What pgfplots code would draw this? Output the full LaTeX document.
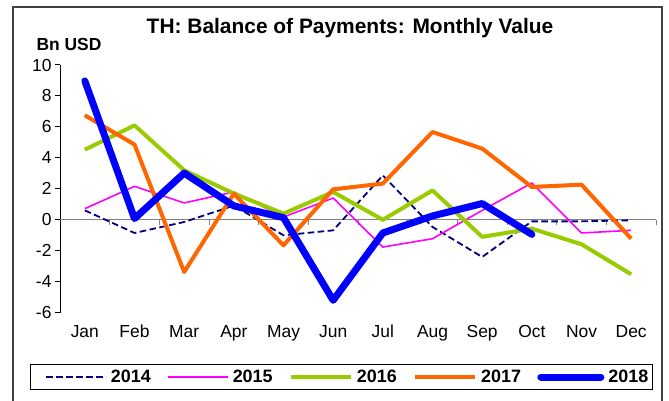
\documentclass[border=0pt]{standalone}
\usepackage{fontspec}
\setmainfont{Liberation Sans}
\usepackage{pgfplots}
\pgfplotsset{compat=1.18}

\definecolor{c2014}{RGB}{0,0,128}
\definecolor{c2015}{RGB}{255,0,255}
\definecolor{c2016}{RGB}{153,204,0}
\definecolor{c2017}{RGB}{255,102,0}
\definecolor{c2018}{RGB}{0,0,255}
\definecolor{zeroline}{RGB}{128,128,128}

\begin{document}
\begin{tikzpicture}[x=1bp,y=1bp]
\useasboundingbox (0,0) rectangle (669,400);
% chart frame
\begin{scope}
  \clip (0,0) rectangle (669,400);
  \draw[line width=1.2bp, black!75] (13,-10) -- (13,393) -- (662,393) -- (662,-10);
\end{scope}

\node[font=\fontsize{21}{24}\selectfont\bfseries] at (350,372) {TH: Balance of Payments: Monthly Value};
\node[font=\fontsize{17.5}{20}\selectfont\bfseries] at (69,356) {Bn USD};

\begin{axis}[
  at={(60bp,87.3bp)}, anchor=south west,
  scale only axis, width=596bp, height=247.7bp,
  xmin=0.5, xmax=12.5, ymin=-6, ymax=10,
  axis y line=left, axis x line=bottom,
  axis line style={-},
  x axis line style={draw=none},
  y axis line style={black, line width=1bp},
  ytick={-6,-4,...,10},
  tick align=outside, major tick length=5bp,
  y tick style={black, line width=1bp},
  x tick style={draw=none},
  xtick={1,...,12},
  xticklabels={Jan,Feb,Mar,Apr,May,Jun,Jul,Aug,Sep,Oct,Nov,Dec},
  ticklabel style={font=\fontsize{17.5}{20}\selectfont},
  /pgf/number format/assume math mode=true,
  xticklabel style={anchor=base, yshift=-20bp},
  clip=false,
  legend columns=5,
  legend image code/.code={\draw[#1] (0bp,0bp) -- (60bp,0bp);},
  legend style={draw=none, fill=none, inner sep=0pt,
    at={(axis description cs:-0.0252,-0.2596)}, anchor=west,
    font=\fontsize{18}{20}\selectfont\bfseries,
    nodes={inner sep=4bp},
    /tikz/every even column/.append style={column sep=12.3bp}},
  every axis plot/.append style={line join=round},
]
% zero line with category separators
\draw[zeroline, line width=1.2bp] (axis cs:0.5,0) -- (axis cs:12.5,0);
\pgfplotsinvokeforeach{1.5,2.5,...,12.5}{
  \draw[zeroline, line width=1bp] (axis cs:#1,0) -- ([yshift=-5bp]axis cs:#1,0);
}

\addplot[c2014, line width=1.8bp, dash pattern=on 6.5bp off 3.5bp] coordinates {
  (1,0.61) (2,-0.85) (3,-0.14) (4,0.92) (5,-1.0) (6,-0.68)
  (7,2.87) (8,-0.46) (9,-2.4) (10,-0.1) (11,-0.1) (12,-0.03)};
\addlegendentry{2014}
\addplot[c2015, line width=1.6bp] coordinates {
  (1,0.72) (2,2.16) (3,1.09) (4,1.8) (5,0.18) (6,1.41)
  (7,-1.76) (8,-1.22) (9,0.61) (10,2.38) (11,-0.85) (12,-0.68)};
\addlegendentry{2015}
\addplot[c2016, line width=4bp] coordinates {
  (1,4.53) (2,6.1) (3,3.2) (4,1.7) (5,0.4) (6,1.8)
  (7,0.0) (8,1.9) (9,-1.1) (10,-0.57) (11,-1.58) (12,-3.52)};
\addlegendentry{2016}
\addplot[c2017, line width=4bp] coordinates {
  (1,6.75) (2,4.86) (3,-3.37) (4,1.69) (5,-1.65) (6,1.97)
  (7,2.34) (8,5.67) (9,4.6) (10,2.12) (11,2.27) (12,-1.22)};
\addlegendentry{2017}
\addplot[c2018, line width=7bp, line cap=round] coordinates {
  (1,8.97) (2,0.08) (3,3.02) (4,0.9) (5,0.14) (6,-5.2)
  (7,-0.85) (8,0.25) (9,1.05) (10,-0.94)};
\addlegendentry{2018}
\end{axis}

% legend frame
\draw[black, line width=1bp] (30.7,10.7) rectangle (652,35.7);
\end{tikzpicture}
\end{document}
